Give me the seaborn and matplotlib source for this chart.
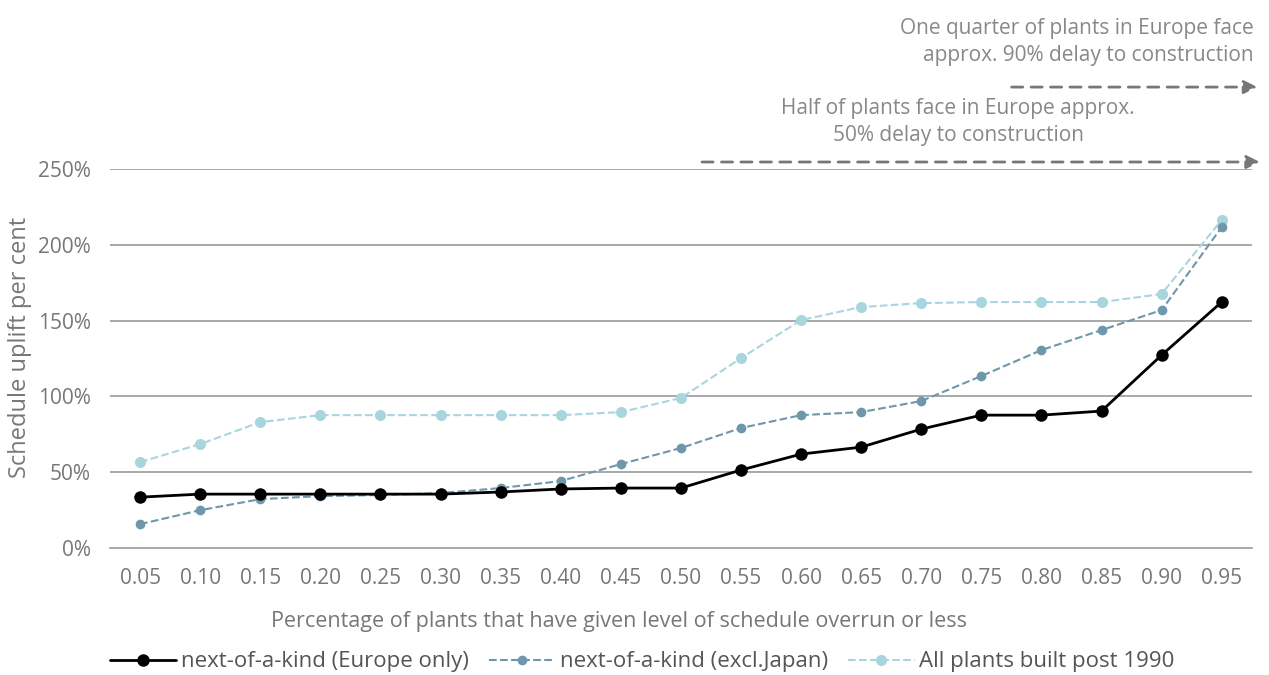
import numpy as np
import pandas as pd
import matplotlib
matplotlib.use("Agg")
import matplotlib.pyplot as plt
import seaborn as sns

# Dados
quantis = ["0.05", "0.10", "0.15", "0.20", "0.25", "0.30", "0.35", "0.40", "0.45", "0.50",
           "0.55", "0.60", "0.65", "0.70", "0.75", "0.80", "0.85", "0.90", "0.95"]
europa = [33.6, 35.6, 35.6, 35.6, 35.6, 35.6, 37.0, 39.0, 39.6, 39.6,
          51.5, 62.0, 66.6, 78.5, 87.7, 87.7, 90.4, 127.3, 162.3]
excl_japao = [15.8, 25.0, 32.3, 34.3, 35.0, 36.3, 39.6, 44.2, 55.4, 66.0,
              79.2, 87.7, 89.7, 97.0, 113.5, 130.6, 143.8, 157.0, 211.7]
pos_1990 = [56.7, 68.6, 83.1, 87.7, 87.7, 87.7, 87.7, 87.7, 89.7, 99.0,
            125.3, 150.4, 159.0, 161.6, 162.3, 162.3, 162.3, 167.6, 216.4]
y_ticks = [0, 50, 100, 150, 200, 250]

series_names = ["next-of-a-kind (Europe only)", "next-of-a-kind (excl.Japan)",
                "All plants built post 1990"]

sns.set_style("white")
plt.rcParams['font.family'] = ['Open Sans', 'DejaVu Sans']
cinza = "#777777"

fig = plt.figure(figsize=(12.69, 6.75), dpi=100)
ax = fig.add_axes([0.0867, 0.188, 0.8997, 0.5615])

idx = np.arange(len(quantis))
df = pd.DataFrame({"x": idx, "europa": europa, "excl": excl_japao, "pos": pos_1990})

sns.lineplot(data=df, x="x", y="pos", ax=ax, color="#a9d6de", linestyle="--",
             linewidth=1.5, marker="o", markersize=8, markeredgewidth=0,
             label=series_names[2], zorder=3)
sns.lineplot(data=df, x="x", y="excl", ax=ax, color="#6e97ab", linestyle="--",
             linewidth=1.5, marker="o", markersize=7, markeredgewidth=0,
             label=series_names[1], zorder=4)
sns.lineplot(data=df, x="x", y="europa", ax=ax, color="black", linestyle="-",
             linewidth=2, marker="o", markersize=9, markeredgewidth=0,
             label=series_names[0], zorder=5)

ax.set_xlim(-0.5, len(quantis) - 0.5)
ax.set_ylim(0, 250)
ax.set_yticks(y_ticks)
ax.set_yticklabels([f"{v}%" for v in y_ticks], fontsize=15, color=cinza)
ax.set_xticks(idx)
ax.set_xticklabels(quantis, fontsize=15, color=cinza)
ax.tick_params(axis="x", length=0, pad=14)
ax.tick_params(axis="y", length=0, pad=14)
for yv in y_ticks[1:]:
    ax.axhline(yv, color="#9a9a9a", linewidth=1.2, zorder=1)

# marcas entre categorias
ax.set_xticks(np.arange(-0.5, len(quantis)), minor=True)
ax.tick_params(axis="x", which="minor", length=8, width=1.2, color="#9a9a9a", direction="out")

for s in ["top", "right", "left"]:
    ax.spines[s].set_visible(False)
ax.spines["bottom"].set_color("#9a9a9a")
ax.spines["bottom"].set_linewidth(1.2)

ax.set_xlabel("Percentage of plants that have given level of schedule overrun or less",
              fontsize=15.5, color=cinza)
ax.xaxis.set_label_coords(0.446, -0.193)
ax.xaxis.label.set_va("center")
ax.set_ylabel("Schedule uplift per cent", fontsize=17, color=cinza)
ax.yaxis.set_label_coords(-0.079, 0.53)
ax.yaxis.label.set_va("center")

handles, labels = ax.get_legend_handles_labels()
order = [2, 1, 0]
leg = ax.legend([handles[i] for i in order], [labels[i] for i in order],
                loc="center", bbox_to_anchor=(0.466, -0.30), ncol=3,
                frameon=False, fontsize=16, handlelength=3.0, columnspacing=0.9,
                handletextpad=0.2, borderpad=0)
for t in leg.get_texts():
    t.set_color("#555555")

# anotações com setas
fig.text(0.988, 0.938, "One quarter of plants in Europe face\napprox. 90% delay to construction",
         ha="right", va="center", fontsize=15, color="#888888", linespacing=1.35,
         multialignment="right")
ax.annotate("", xy=(0.993, 0.871), xytext=(0.795, 0.871), xycoords="figure fraction",
            arrowprops=dict(arrowstyle="-|>", linestyle=(0, (4, 3)), color="#777777",
                            lw=2, mutation_scale=20))
fig.text(0.755, 0.819, "Half of plants face in Europe approx.\n50% delay to construction",
         ha="center", va="center", fontsize=15, color="#888888", linespacing=1.35)
ax.annotate("", xy=(0.995, 0.760), xytext=(0.551, 0.760), xycoords="figure fraction",
            arrowprops=dict(arrowstyle="-|>", linestyle=(0, (4, 3)), color="#777777",
                            lw=2, mutation_scale=20))

fig.savefig("out.png", dpi=100)
